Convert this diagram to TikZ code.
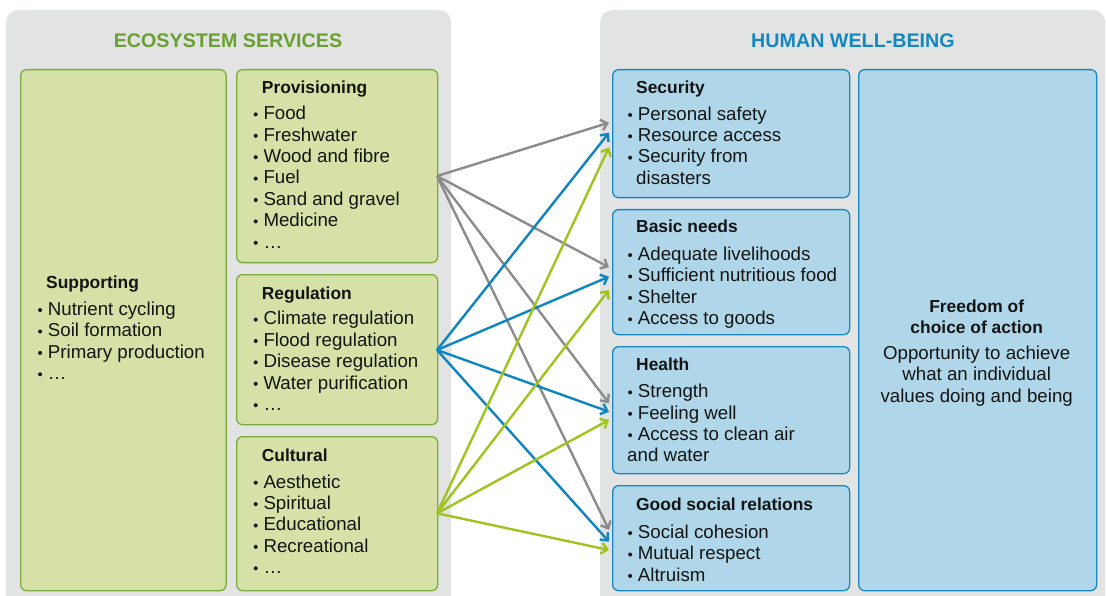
\documentclass[tikz,border=0pt]{standalone}
\usepackage{fontspec}
\setmainfont{Liberation Sans}
\usetikzlibrary{arrows.meta}

\definecolor{panelgray}{HTML}{E2E3E3}
\definecolor{gfill}{HTML}{D5E1A6}
\definecolor{gline}{HTML}{7DAA3C}
\definecolor{bfill}{HTML}{B0D7E9}
\definecolor{bline}{HTML}{1987C3}
\definecolor{gtitle}{HTML}{6AA032}
\definecolor{btitle}{HTML}{1487BE}
\definecolor{agray}{HTML}{8C8C8C}
\definecolor{ablue}{HTML}{0E85C0}
\definecolor{agreen}{HTML}{A0C41E}
\definecolor{ink}{HTML}{141414}

% one bulleted line per entry, 21.4pt apart: a round dot, then the text
\newcommand\bulletlines[4]{%
  \foreach \t [count=\i from 0] in {#4} {
    \node[dot] (#1-d\i) at (#2-7.6, #3+21.4*\i-5.3) {};
    \node[item] (#1-\i) at (#2, #3+21.4*\i) {\t};
  }}

\begin{document}
\begin{tikzpicture}[x=1pt,y=-1pt,
  panel/.style={fill=panelgray, draw=none, rounded corners=12pt, anchor=north west, inner sep=0pt},
  gbox/.style={fill=gfill, draw=gline, line width=1.3pt, rounded corners=6pt, anchor=north west, inner sep=0pt},
  bbox/.style={fill=bfill, draw=bline, line width=1.3pt, rounded corners=6pt, anchor=north west, inner sep=0pt},
  title/.style={font=\fontsize{19.7}{22}\selectfont\bfseries, anchor=base, inner sep=0pt},
  head/.style={font=\fontsize{17.4}{20}\selectfont\bfseries, text=ink, anchor=base west, inner sep=0pt},
  item/.style={font=\fontsize{18.7}{21.4}\selectfont, text=ink, anchor=base west, inner sep=0pt},
  dot/.style={circle, fill=ink, draw=none, inner sep=0pt, minimum size=4pt},
  conn/.style={line width=2.4pt, -{Straight Barb[length=6pt,width=11pt]}},
]
\useasboundingbox (0,0) rectangle (1106,596);

% grey panels, running off the lower edge
\begin{scope}
  \clip (0,0) rectangle (1106,596);
  \node[panel, minimum width=445pt, minimum height=620pt] (es) at (6,10) {};
  \node[panel, minimum width=505pt, minimum height=620pt] (hw) at (600,10) {};
\end{scope}

\node[title, text=gtitle] (es-title) at (228,47.7) {ECOSYSTEM SERVICES};
\node[title, text=btitle] (hw-title) at (853,47.7) {HUMAN WELL-BEING};

% ecosystem service boxes
\node[gbox, minimum width=205.5pt, minimum height=521pt] (sup)  at (20,69) {};
\node[gbox, minimum width=201pt, minimum height=193pt] (prov) at (236,69) {};
\node[gbox, minimum width=201pt, minimum height=150pt] (reg)  at (236,274) {};
\node[gbox, minimum width=201pt, minimum height=154pt] (cult) at (236,436) {};

% well-being boxes
\node[bbox, minimum width=237pt, minimum height=128pt] (sec)    at (612,69) {};
\node[bbox, minimum width=237pt, minimum height=125pt] (basic)  at (612,209) {};
\node[bbox, minimum width=237pt, minimum height=127pt] (health) at (612,346) {};
\node[bbox, minimum width=237pt, minimum height=105pt] (social) at (612,485) {};
\node[bbox, minimum width=238pt, minimum height=521pt] (free)   at (858,69) {};

% texts of the service boxes
\node[head] (sup-h) at (46,288.5) {Supporting};
\bulletlines{sup}{47.7}{315.4}{Nutrient cycling,Soil formation,Primary production,…}

\node[head] (prov-h) at (261.7,94) {Provisioning};
\bulletlines{prov}{263.3}{119.7}{Food,Freshwater,Wood and fibre,Fuel,Sand and gravel,Medicine,…}

\node[head] (reg-h) at (261.7,299.3) {Regulation};
\bulletlines{reg}{263.3}{324.9}{Climate regulation,Flood regulation,Disease regulation,Water purification,…}

\node[head] (cult-h) at (261.7,461.7) {Cultural};
\bulletlines{cult}{263.3}{488}{Aesthetic,Spiritual,Educational,Recreational,…}

% texts of the well-being boxes
\node[head] (sec-h) at (636,94) {Security};
\bulletlines{sec}{637.7}{120.2}{Personal safety,Resource access,Security from}
\node[item] (sec-x) at (636,184.4) {disasters};

\node[head] (basic-h) at (636,233) {Basic needs};
\bulletlines{basic}{637.7}{260.4}{Adequate livelihoods,Sufficient nutritious food,Shelter,Access to goods}

\node[head] (health-h) at (636,370.6) {Health};
\bulletlines{health}{637.7}{397.7}{Strength,Feeling well,Access to clean air}
\node[item] (health-x) at (627,461.9) {and water};

\node[head] (social-h) at (636,510.3) {Good social relations};
\bulletlines{social}{637.7}{538.4}{Social cohesion,Mutual respect,Altruism}

\node[head, anchor=base] (free-h1) at (976.7,312) {Freedom of};
\node[head, anchor=base] (free-h2) at (976.7,333.7) {choice of action};
\node[item, anchor=base] (free-1) at (976.7,359.4) {Opportunity to achieve};
\node[item, anchor=base] (free-2) at (976.7,380.8) {what an individual};
\node[item, anchor=base] (free-3) at (976.7,402.2) {values doing and being};

% connector ends
\coordinate (prov-out) at (437,176);
\coordinate (reg-out)  at (437,350);
\coordinate (cult-out) at (437,513.3);

\coordinate (sec-a) at (609,122.7);   \coordinate (sec-b) at (609,132.7);   \coordinate (sec-c) at (609,147.3);
\coordinate (basic-a) at (609,267.3); \coordinate (basic-b) at (609,276.7); \coordinate (basic-c) at (609,290);
\coordinate (health-a) at (609,403.3);\coordinate (health-b) at (609,411.7);\coordinate (health-c) at (609,420);
\coordinate (social-a) at (609,530);  \coordinate (social-b) at (609,541.7);\coordinate (social-c) at (609,550);

% provisioning links
\foreach \t in {sec,basic,health,social}
  \draw[conn, agray] (prov-out) -- (\t-a);
% regulation links
\foreach \t in {sec,basic,health,social}
  \draw[conn, ablue] (reg-out) -- (\t-b);
% cultural links
\foreach \t in {sec,basic,health,social}
  \draw[conn, agreen] (cult-out) -- (\t-c);

\end{tikzpicture}
\end{document}
